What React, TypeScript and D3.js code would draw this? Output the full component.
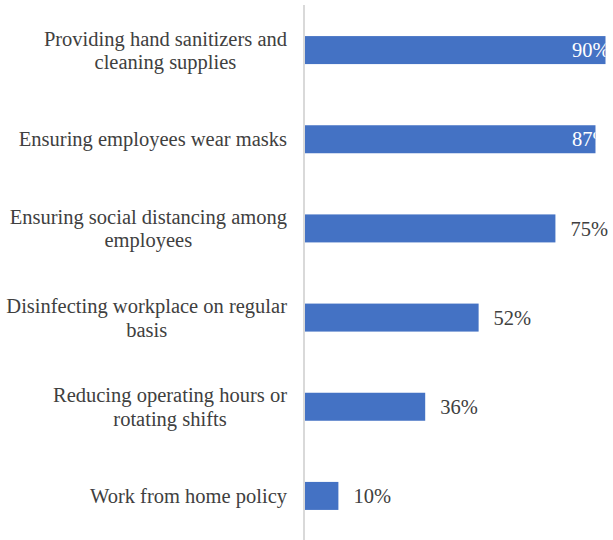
import React, { useEffect, useRef } from "react";
import * as d3 from "d3";

const categories: string[] = [
  "Providing hand sanitizers and\ncleaning supplies",
  "Ensuring employees wear masks",
  "Ensuring social distancing among\nemployees",
  "Disinfecting workplace on regular\nbasis",
  "Reducing operating hours or\nrotating shifts",
  "Work from home policy",
];
const values: number[] = [90, 87, 75, 52, 36, 10];
const insideLabels: boolean[] = [true, true, false, false, false, false];

const W = 613;
const H = 540;
const FONT = "Liberation Serif";
const FS = 20.5;

export default function App() {
  const ref = useRef<SVGSVGElement>(null);

  useEffect(() => {
    const svg = d3.select(ref.current!);
    svg.selectAll("*").remove();

    const x0 = 305;
    const x = d3.scaleLinear().domain([0, 90]).range([x0, 605.5]);
    const y = d3
      .scaleBand<number>()
      .domain(d3.range(categories.length))
      .range([5.5, 540.5])
      .paddingInner(0.686)
      .paddingOuter(0.343);

    const defs = svg.append("defs");
    values.forEach((v, i) => {
      defs
        .append("clipPath")
        .attr("id", `clip-${i}`)
        .append("rect")
        .attr("x", x0)
        .attr("y", y(i)!)
        .attr("width", x(v) - x0)
        .attr("height", y.bandwidth());
    });

    svg
      .append("g")
      .selectAll("rect")
      .data(values)
      .join("rect")
      .attr("x", x0)
      .attr("y", (_, i) => y(i)!)
      .attr("width", (d) => x(d) - x0)
      .attr("height", y.bandwidth())
      .attr("fill", "#4472C4");

    svg
      .append("line")
      .attr("x1", x0 - 1)
      .attr("x2", x0 - 1)
      .attr("y1", 5)
      .attr("y2", H)
      .attr("stroke", "#d9d9d9")
      .attr("stroke-width", 2);

    values.forEach((v, i) => {
      const cy = y(i)! + y.bandwidth() / 2;
      const t = svg
        .append("text")
        .attr("y", cy)
        .attr("dy", "0.35em")
        .attr("font-family", FONT)
        .attr("font-size", FS)
        .text(`${v}%`);
      if (insideLabels[i]) {
        t.attr("x", 572).attr("fill", "#ffffff").attr("clip-path", `url(#clip-${i})`);
      } else {
        t.attr("x", x(v) + 15).attr("fill", "#404040");
      }
    });

    const right = 287;
    const lh = 23.5;
    categories.forEach((c, i) => {
      const lines = c.split("\n");
      const cy = y(i)! + y.bandwidth() / 2;
      const g = svg.append("g");
      const texts = lines.map((ln, k) =>
        g
          .append("text")
          .attr("y", cy + (k - (lines.length - 1) / 2) * lh)
          .attr("dy", "0.35em")
          .attr("text-anchor", "middle")
          .attr("fill", "#404040")
          .attr("font-family", FONT)
          .attr("font-size", FS)
          .text(ln)
      );
      const maxW = d3.max(texts, (t) => (t.node() as SVGTextElement).getComputedTextLength()) || 0;
      texts.forEach((t) => t.attr("x", right - maxW / 2));
    });
  }, []);

  return (
    <svg
      ref={ref}
      width={W}
      height={H}
      style={{ position: "absolute", left: 0, top: 0, background: "#fff" }}
    />
  );
}
